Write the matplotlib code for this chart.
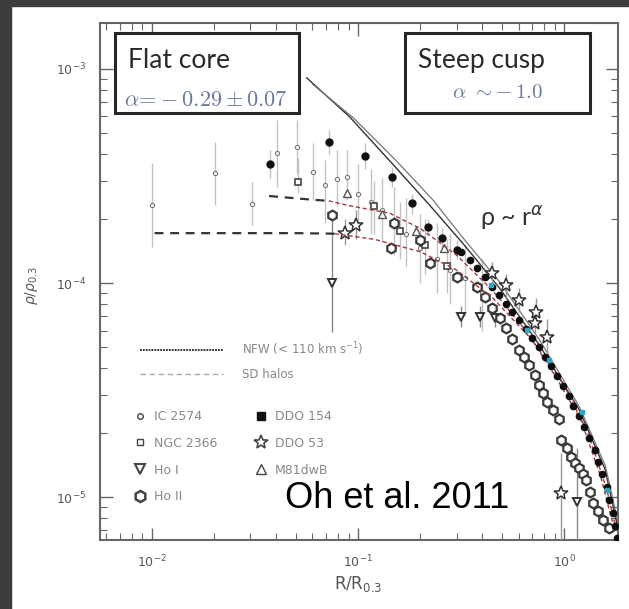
import numpy as np
import matplotlib
matplotlib.use('Agg')
import matplotlib.pyplot as plt
from matplotlib.lines import Line2D
from matplotlib.patches import Rectangle

# ---------------- data ----------------
# IC 2574 (small circles, with error bars)
ic2574_r = [0.0100, 0.0202, 0.0305, 0.0403, 0.0504, 0.0602, 0.0688, 0.0787, 0.0880,
            0.100, 0.115, 0.130, 0.150, 0.170, 0.200, 0.240, 0.280, 0.330, 0.400]
ic2574_rho = [2.31e-4, 3.27e-4, 2.34e-4, 4.05e-4, 4.32e-4, 3.30e-4, 2.87e-4, 3.06e-4, 3.13e-4,
              2.6e-4, 2.4e-4, 2.2e-4, 1.95e-4, 1.7e-4, 1.45e-4, 1.3e-4, 1.15e-4, 1.05e-4, 9.0e-5]
ic2574_lo = [1.47e-4, 2.31e-4, 1.87e-4, 2.81e-4, 3.27e-4, 2.44e-4, 1.91e-4, 2.30e-4, 2.44e-4,
             1.8e-4, 1.7e-4, 1.55e-4, 1.35e-4, 1.2e-4, 1.0e-4, 9.0e-5, 8.0e-5, 7.0e-5, 6.0e-5]
ic2574_hi = [3.64e-4, 4.56e-4, 2.97e-4, 5.78e-4, 5.78e-4, 4.51e-4, 3.76e-4, 4.20e-4, 4.18e-4,
             3.6e-4, 3.4e-4, 3.1e-4, 2.8e-4, 2.5e-4, 2.1e-4, 1.9e-4, 1.7e-4, 1.5e-4, 1.3e-4]

# NGC 2366 (small squares)
ngc2366_r = [0.0509, 0.120, 0.160, 0.210, 0.270]
ngc2366_rho = [2.96e-4, 2.3e-4, 1.75e-4, 1.5e-4, 1.2e-4]
ngc2366_lo = [2.63e-4, 1.7e-4, 1.3e-4, 1.1e-4, 0.9e-4]
ngc2366_hi = [3.84e-4, 3.0e-4, 2.4e-4, 2.0e-4, 1.6e-4]

# Ho I (down triangles)
hoI_r = [0.0744, 0.317, 0.388, 0.463, 1.156]
hoI_rho = [1.0e-4, 6.94e-5, 6.94e-5, 6.87e-5, 9.48e-6]
hoI_lo = [5.9e-5, 6.2e-5, 6.2e-5, 6.2e-5, 1.0e-6]
hoI_hi = [2.1e-4, 7.8e-5, 7.8e-5, 7.8e-5, 1.7e-5]

# Ho II (open hexagons)
hoII_r = [0.0744, 0.145, 0.150, 0.200, 0.222, 0.300, 0.375, 0.410, 0.448, 0.490, 0.524,
          0.560, 0.605, 0.640, 0.677, 0.720, 0.757, 0.790, 0.827, 0.880, 0.946, 0.967,
          1.030, 1.081, 1.130, 1.182, 1.230, 1.278, 1.330, 1.382, 1.460, 1.544, 1.650]
hoII_rho = [2.08e-4, 1.46e-4, 1.91e-4, 1.59e-4, 1.24e-4, 1.07e-4, 9.6e-5, 8.6e-5, 7.64e-5,
            6.9e-5, 6.16e-5, 5.5e-5, 4.86e-5, 4.5e-5, 4.14e-5, 3.7e-5, 3.34e-5, 3.05e-5,
            2.78e-5, 2.55e-5, 2.31e-5, 1.85e-5, 1.7e-5, 1.54e-5, 1.45e-5, 1.37e-5, 1.28e-5,
            1.20e-5, 1.06e-5, 9.37e-6, 8.6e-6, 7.81e-6, 7.2e-6]

# DDO 154 (filled) - inner points with error bars
ddo154_r_in = [0.0373, 0.0720, 0.1075, 0.1453, 0.1816, 0.2171, 0.2537, 0.2999]
ddo154_rho_in = [3.6e-4, 4.56e-4, 3.92e-4, 3.13e-4, 2.37e-4, 1.83e-4, 1.62e-4, 1.43e-4]
ddo154_lo_in = [3.1e-4, 4.0e-4, 3.4e-4, 2.8e-4, 2.1e-4, 1.65e-4, 1.45e-4, 1.3e-4]
ddo154_hi_in = [4.2e-4, 5.2e-4, 4.5e-4, 3.5e-4, 2.6e-4, 2.0e-4, 1.8e-4, 1.58e-4]
# DDO 154 - dense outer band
ddo154_r = [0.317, 0.347, 0.379, 0.414, 0.448, 0.484, 0.524, 0.560, 0.605, 0.655, 0.700,
            0.757, 0.809, 0.865, 0.925, 0.989, 1.057, 1.106, 1.182, 1.250, 1.321, 1.413,
            1.461, 1.528, 1.614, 1.652, 1.726, 1.764, 1.804]
ddo154_rho = [1.40e-4, 1.28e-4, 1.18e-4, 1.07e-4, 9.6e-5, 8.79e-5, 7.98e-5, 7.32e-5, 6.72e-5,
              6.10e-5, 5.53e-5, 5.02e-5, 4.51e-5, 4.09e-5, 3.68e-5, 3.30e-5, 2.96e-5, 2.66e-5,
              2.39e-5, 2.12e-5, 1.89e-5, 1.66e-5, 1.46e-5, 1.28e-5, 1.11e-5, 9.68e-6, 8.42e-6,
              7.32e-6, 6.43e-6]

# DDO 53 (open stars)
ddo53_r = [0.0860, 0.0980, 0.448, 0.524, 0.605, 0.724, 0.732, 0.827, 0.967]
ddo53_rho = [1.71e-4, 1.87e-4, 1.11e-4, 9.8e-5, 8.33e-5, 6.5e-5, 7.32e-5, 5.59e-5, 1.05e-5]
ddo53_lo = [1.5e-4, 1.6e-4, 1.0e-4, 8.5e-5, 7.3e-5, 5.8e-5, 6.2e-5, 4.6e-5, 1.0e-6]
ddo53_hi = [2.0e-4, 2.2e-4, 1.25e-4, 1.1e-4, 9.5e-5, 7.3e-5, 8.5e-5, 6.8e-5, 1.6e-5]

# M81dwB (open triangles)
m81dwb_r = [0.088, 0.130, 0.190, 0.260]
m81dwb_rho = [2.63e-4, 2.1e-4, 1.75e-4, 1.45e-4]

# unlabelled cyan points along the band
cyan_r = [0.443, 0.662, 0.846, 1.222, 1.614]
cyan_rho = [9.8e-5, 6.03e-5, 4.37e-5, 2.5e-5, 1.08e-5]

# NFW model curves
nfw1_r = [0.0563, 0.0910, 0.1453, 0.2222, 0.3279, 0.4844, 0.7567, 1.1823, 1.5786, 1.826]
nfw1_rho = [9.09e-4, 5.97e-4, 3.64e-4, 2.31e-4, 1.50e-4, 9.48e-5, 5.13e-5, 2.55e-5, 1.34e-5, 7.01e-6]
nfw2_r = [0.0600, 0.095, 0.150, 0.230, 0.330, 0.490, 0.760, 1.180, 1.580, 1.830]
nfw2_rho = [8.5e-4, 5.9e-4, 3.8e-4, 2.45e-4, 1.58e-4, 1.0e-4, 5.4e-5, 2.65e-5, 1.4e-5, 7.5e-6]

# SD halo curves (flat cores, then tails)
sd1_r = [0.0103, 0.0300, 0.0500, 0.0770]
sd1_rho = [1.71e-4, 1.71e-4, 1.71e-4, 1.70e-4]
sd1_tail_r = [0.077, 0.120, 0.200, 0.300, 0.450, 0.700, 1.000, 1.300, 1.600, 1.800]
sd1_tail_rho = [1.70e-4, 1.6e-4, 1.4e-4, 1.15e-4, 8.5e-5, 5.4e-5, 3.3e-5, 2.0e-5, 1.1e-5, 6.8e-6]
sd2_r = [0.0370, 0.0600, 0.0720]
sd2_rho = [2.55e-4, 2.45e-4, 2.42e-4]
sd2_tail_r = [0.072, 0.090, 0.142, 0.200, 0.300, 0.450, 0.650, 0.900, 1.200, 1.500, 1.750]
sd2_tail_rho = [2.42e-4, 2.3e-4, 2.12e-4, 1.8e-4, 1.35e-4, 9.2e-5, 6.0e-5, 3.7e-5, 2.3e-5, 1.25e-5, 7.0e-6]

legend_labels = ['IC 2574', 'NGC 2366', 'Ho I', 'Ho II', 'DDO 154', 'DDO 53', 'M81dwB']

# ---------------- figure ----------------
W, H = 629, 609
fig = plt.figure(figsize=(W / 100, H / 100), dpi=100)
fig.patch.set_facecolor('white')


def fp(x, y):
    # pixel (from top-left) -> figure fraction
    return x / W, 1 - y / H


# dark frame strips of the screenshot
fig.patches.append(Rectangle((0, 0), 11 / W, 1, transform=fig.transFigure,
                             color='#3d3d3d', zorder=0))
fig.patches.append(Rectangle((0, 1 - 6 / H), 1, 6 / H, transform=fig.transFigure,
                             color='#3d3d3d', zorder=0))

ax = fig.add_axes([100 / W, 1 - 540 / H, 518 / W, 517 / H])
ax.set_xscale('log')
ax.set_yscale('log')
ax.set_xlim(0.0056, 1.82)
ax.set_ylim(6.3e-6, 1.64e-3)

ebar = dict(ecolor='#c2c2c2', elinewidth=1.0, capsize=0, zorder=2)


def yerr(rho, lo, hi):
    rho, lo, hi = np.array(rho), np.array(lo), np.array(hi)
    return [rho - lo, hi - rho]


ax.errorbar(ic2574_r, ic2574_rho, yerr=yerr(ic2574_rho, ic2574_lo, ic2574_hi), fmt='o',
            ms=3, mfc='white', mec='#777777', mew=0.8, **ebar)
ax.errorbar(ngc2366_r, ngc2366_rho, yerr=yerr(ngc2366_rho, ngc2366_lo, ngc2366_hi), fmt='s',
            ms=5, mfc='white', mec='#444444', mew=1.2, **ebar)
ax.errorbar(hoI_r, hoI_rho, yerr=yerr(hoI_rho, hoI_lo, hoI_hi), fmt='v',
            ms=6, mfc='white', mec='#333333', mew=1.4, ecolor='#8a8a8a',
            elinewidth=1.0, capsize=0, zorder=3)
ax.errorbar(ddo53_r, ddo53_rho, yerr=yerr(ddo53_rho, ddo53_lo, ddo53_hi), fmt='*',
            ms=10, mfc='white', mec='#333333', mew=1.1, ecolor='#9a9a9a',
            elinewidth=1.0, capsize=0, zorder=4)
ax.errorbar(ddo154_r_in, ddo154_rho_in, yerr=yerr(ddo154_rho_in, ddo154_lo_in, ddo154_hi_in),
            fmt='o', ms=5, color='#111111', **ebar)

# model lines
ax.plot(nfw1_r, nfw1_rho, color='#333333', lw=1.0, zorder=3)
ax.plot(nfw2_r, nfw2_rho, color='#777777', lw=0.9, zorder=3)
ax.plot(sd1_r, sd1_rho, color='#333333', lw=1.6, ls=(0, (4, 3)), zorder=3)
ax.plot(sd2_r, sd2_rho, color='#333333', lw=1.6, ls=(0, (4, 3)), zorder=3)
ax.plot(sd1_tail_r, sd1_tail_rho, color='#a33a3a', lw=1.0, ls=(0, (3, 2)), zorder=5)
ax.plot(sd2_tail_r, sd2_tail_rho, color='#a33a3a', lw=1.0, ls=(0, (3, 2)), zorder=5)

ax.plot(hoII_r, hoII_rho, ls='none', marker='h', ms=7, mfc='white', mec='#3a3a3a',
        mew=1.6, zorder=4)
ax.plot(m81dwb_r, m81dwb_rho, ls='none', marker='^', ms=6, mfc='white', mec='#555555',
        mew=1.0, zorder=4)
ax.plot(ddo154_r, ddo154_rho, ls='none', marker='o', ms=4.5, color='#0d0d0d', zorder=5)
ax.plot(cyan_r, cyan_rho, ls='none', marker='s', ms=3, color='#2aa6c8', zorder=6)

# axes styling
for s in ax.spines.values():
    s.set_color('#666666')
    s.set_linewidth(1.5)
ax.tick_params(which='both', direction='in', top=True, right=True, colors='#666666',
               labelcolor='#555555', labelsize=9)
ax.tick_params(which='major', length=9, width=1.0, pad=10)
ax.tick_params(which='minor', length=5, width=0.8)
ax.set_ylabel(r'$\rho/\rho_{0.3}$', color='#555555', fontsize=10, labelpad=0)
ax.yaxis.set_label_coords(-0.116, 0.493)
fig.text(*fp(358, 584), r'R/R$_{0.3}$', color='#555555', fontsize=12,
         ha='center', va='center')

# legends
line_handles = [Line2D([], [], color='#222222', lw=1.3, ls=(0, (1, 0.6))),
                Line2D([], [], color='#aaaaaa', lw=1.0, ls=(0, (4, 2.5)))]
leg1 = ax.legend(line_handles, [r'NFW (< 110 km s$^{-1}$)', 'SD halos'],
                 loc='upper left', bbox_to_anchor=fp(140, 340), bbox_transform=fig.transFigure,
                 frameon=False, fontsize=8.5, handlelength=7, handletextpad=1.6,
                 labelspacing=0.9, borderpad=0, borderaxespad=0, labelcolor='#888888')
ax.add_artist(leg1)

mk = dict(ls='none', mfc='white', mec='#444444')
marker_handles = [Line2D([], [], marker='o', ms=4, mew=1.0, **mk),
                  Line2D([], [], marker='s', ms=5, mew=1.0, **mk),
                  Line2D([], [], marker='v', ms=6.5, mew=1.5, **mk),
                  Line2D([], [], marker='h', ms=8, mew=1.8, **mk),
                  Line2D([], [], marker='s', ms=6, color='#111111', ls='none'),
                  Line2D([], [], marker='*', ms=10, mew=1.2, **mk),
                  Line2D([], [], marker='^', ms=6.5, mew=1.0, **mk)]
ax.legend(marker_handles, legend_labels, ncol=2, loc='upper left',
          bbox_to_anchor=fp(134, 410), bbox_transform=fig.transFigure,
          frameon=False, fontsize=9, handlelength=1.0, handletextpad=0.6,
          labelspacing=1.1, columnspacing=3.0, borderpad=0, borderaxespad=0,
          labelcolor='#888888')

# annotation boxes
for x0, x1 in [(115, 299), (405, 590)]:
    fig.patches.append(Rectangle(fp(x0, 113), (x1 - x0) / W, 80 / H, transform=fig.transFigure,
                                 fill=True, facecolor='white', edgecolor='#262626',
                                 lw=2.2, zorder=10))

fig.text(*fp(128, 68), 'Flat core', family=['Lato', 'DejaVu Sans'], fontsize=19,
         color='#2a2a2a', va='baseline', zorder=11)
fig.text(*fp(124, 100), r'$\alpha\!=\!-0.29 \pm 0.07$', math_fontfamily='cm', fontsize=16,
         color='#6878a0', va='center', zorder=11)
fig.text(*fp(418, 68), 'Steep cusp', family=['Lato', 'DejaVu Sans'], fontsize=19,
         color='#2a2a2a', va='baseline', zorder=11)
fig.text(*fp(452, 92), r'$\alpha\ \sim\!-1.0$', math_fontfamily='cm', fontsize=15,
         color='#6878a0', va='center', zorder=11)
fig.text(*fp(480, 218), r'ρ ~ r$^{α}$', family=['Lato', 'DejaVu Sans'], fontsize=18,
         color='#333333', va='center')
fig.text(*fp(285, 498), 'Oh et al. 2011', family=['Liberation Sans', 'DejaVu Sans'],
         fontsize=26, color='black', va='center', zorder=12)

fig.savefig('out.png', dpi=100)
